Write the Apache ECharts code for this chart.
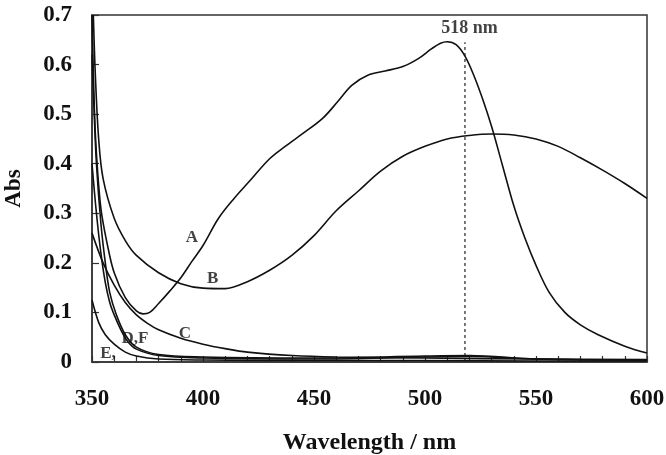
<!DOCTYPE html>
<html>
<head>
<meta charset="utf-8">
<script src="https://cdn.jsdelivr.net/npm/echarts@6/dist/echarts.min.js"></script>
<style>
html,body{margin:0;padding:0;background:#fff;}
#chart{width:666px;height:455px;}
</style>
</head>
<body>
<div id="chart"></div>
<script>
// Wavelength (nm) and absorbance values
const nmA  = [350, 351, 352, 354, 357, 360, 365, 370, 373, 376, 380, 385, 390, 395, 400, 407, 414, 421, 430, 437, 445, 454, 461, 467, 474, 482, 490, 497, 503, 507, 510, 514, 518, 522, 526, 530, 535, 540, 545, 550, 556, 563, 570, 578, 590, 600];
const absA = [0.70, 0.52, 0.42, 0.31, 0.235, 0.18, 0.13, 0.103, 0.097, 0.1, 0.118, 0.143, 0.17, 0.203, 0.235, 0.29, 0.33, 0.365, 0.41, 0.435, 0.461, 0.492, 0.527, 0.558, 0.578, 0.587, 0.596, 0.612, 0.632, 0.643, 0.646, 0.64, 0.617, 0.578, 0.53, 0.475, 0.395, 0.315, 0.25, 0.195, 0.14, 0.1, 0.075, 0.055, 0.032, 0.018];

const nmB  = [350.6, 351.5, 353, 355, 360, 365, 370, 380, 390, 400, 410, 420, 430, 440, 450, 460, 470, 480, 490, 500, 510, 520, 530, 540, 550, 560, 570, 580, 590, 600];
const absB = [0.70, 0.58, 0.45, 0.37, 0.29, 0.245, 0.215, 0.18, 0.158, 0.149, 0.148, 0.162, 0.185, 0.215, 0.255, 0.305, 0.345, 0.385, 0.415, 0.435, 0.45, 0.457, 0.46, 0.458, 0.45, 0.435, 0.412, 0.387, 0.36, 0.33];

const nmC  = [350, 355, 360, 365, 370, 375, 380, 390, 400, 410, 420, 440, 460, 500, 550, 600];
const absC = [0.26, 0.2, 0.155, 0.12, 0.095, 0.078, 0.065, 0.048, 0.036, 0.027, 0.02, 0.013, 0.01, 0.008, 0.006, 0.005];

const nmD  = [350, 352, 354, 356, 358, 360, 363, 366, 370, 380, 400, 450, 500, 520, 550, 600];
const absD = [0.40, 0.30, 0.22, 0.16, 0.12, 0.095, 0.065, 0.042, 0.026, 0.013, 0.008, 0.006, 0.01, 0.011, 0.006, 0.004];

const nmF  = [350, 351, 352, 354, 356, 358, 361, 365, 370, 380, 400, 450, 500, 520, 550, 600];
const absF = [0.62, 0.5, 0.4, 0.28, 0.2, 0.14, 0.095, 0.055, 0.03, 0.015, 0.01, 0.008, 0.012, 0.013, 0.006, 0.004];

const nmE  = [350, 353, 356, 360, 365, 370, 380, 400, 450, 500, 550, 600];
const absE = [0.125, 0.08, 0.055, 0.036, 0.02, 0.012, 0.006, 0.004, 0.003, 0.003, 0.002, 0.002];

// Marker at 518 nm
const peakNm = 518;
const peakTop = 0.645;
const peakText = '518 nm';
const peakTextPos = [520, 0.674];

// Curve labels
const curveLabels = ['A', 'B', 'C', 'D,F', 'E,'];
const curveLabelPos = [[395, 0.251], [404.4, 0.168], [391.8, 0.057], [369.3, 0.047], [357.2, 0.016]];

// Axis ticks
const xMin = 350, xMax = 600, xStep = 50;
const yMin = 0, yMax = 0.7, yStep = 0.1;

const zip = (xs, ys) => xs.map((x, i) => [x, ys[i]]);
const FONT = '"Liberation Serif", "DejaVu Serif", serif';
const INK = '#111';

function curve(name, xs, ys) {
  return {
    name: name, type: 'line', data: zip(xs, ys),
    showSymbol: false, smooth: 0.35,
    lineStyle: {color: INK, width: 1.6},
    clip: true, silent: true, z: 3
  };
}

const chart = echarts.init(document.getElementById('chart'), null, {renderer: 'canvas'});
chart.setOption({
  animation: false,
  backgroundColor: '#fff',
  grid: {left: 92, right: 19, top: 15, bottom: 93, containLabel: false, outerBoundsMode: 'none',
    show: true, borderColor: '#333', borderWidth: 1.5},
  xAxis: {
    type: 'value', min: xMin, max: xMax, interval: xStep,
    name: 'Wavelength / nm', nameLocation: 'middle', nameGap: 69,
    nameTextStyle: {fontFamily: FONT, fontWeight: 'bold', fontSize: 24, color: INK},
    axisLine: {show: true, lineStyle: {color: '#333', width: 1.5}},
    axisTick: {show: true, inside: true, length: 6, lineStyle: {color: '#333', width: 1.2}},
    minorTick: {show: true, splitNumber: 5, length: 6, lineStyle: {color: '#333', width: 1.2}},
    axisLabel: {fontFamily: FONT, fontWeight: 'bold', fontSize: 23, color: INK, margin: 26},
    splitLine: {show: false}
  },
  yAxis: {
    type: 'value', min: yMin, max: yMax, interval: yStep,
    name: 'Abs', nameLocation: 'middle', nameGap: 66,
    nameTextStyle: {fontFamily: FONT, fontWeight: 'bold', fontSize: 23, color: INK},
    axisLine: {show: true, lineStyle: {color: '#333', width: 1.5}},
    axisTick: {show: true, inside: true, length: 7, lineStyle: {color: '#333', width: 1.2}},
    axisLabel: {fontFamily: FONT, fontWeight: 'bold', fontSize: 23, color: INK, margin: 20,
      formatter: v => (v === 0 ? '0' : v.toFixed(1))},
    splitLine: {show: false}
  },
  series: [
    curve('A', nmA, absA),
    curve('B', nmB, absB),
    curve('C', nmC, absC),
    curve('D', nmD, absD),
    curve('F', nmF, absF),
    curve('E', nmE, absE),
    {
      name: 'peak', type: 'line', data: [[peakNm, 0], [peakNm, peakTop]],
      showSymbol: false, silent: true, z: 2,
      lineStyle: {color: '#333', width: 1.3, type: [3, 3]}
    },
    {
      name: 'peakText', type: 'scatter', data: [peakTextPos], symbolSize: 0, silent: true,
      label: {show: true, position: 'inside', formatter: peakText,
        fontFamily: FONT, fontWeight: 'bold', fontSize: 18, color: INK}
    },
    {
      name: 'curveLabels', type: 'scatter', symbolSize: 0, silent: true,
      data: curveLabelPos.map((p, i) => ({value: p, name: curveLabels[i]})),
      label: {show: true, position: 'inside', formatter: p => p.name,
        fontFamily: FONT, fontWeight: 'bold', fontSize: 17, color: INK}
    }
  ]
});
</script>
</body>
</html>
